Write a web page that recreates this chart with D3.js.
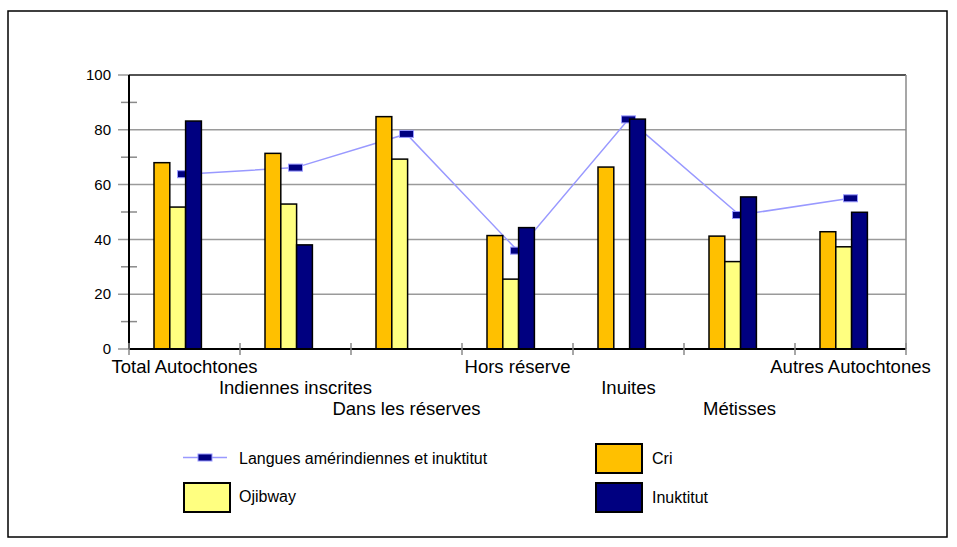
<!DOCTYPE html>
<html><head><meta charset="utf-8">
<script src="https://cdn.jsdelivr.net/npm/d3@7"></script>
<style>body{margin:0;background:#fff}svg{display:block;font-family:"Liberation Sans",Arial,sans-serif}</style>
</head><body><svg id="c" width="957" height="547"></svg>
<script>
const categories = ["Total Autochtones","Indiennes inscrites","Dans les réserves","Hors réserve","Inuites","Métisses","Autres Autochtones"];
const seriesNames = ["Cri","Ojibway","Inuktitut"];
const cri = [68.0, 71.4, 84.8, 41.4, 66.4, 41.2, 42.8];
const ojibway = [51.8, 52.9, 69.3, 25.5, null, 31.9, 37.3];
const inuktitut = [83.2, 38.0, 0, 44.3, 83.9, 55.5, 49.9];
const langues = [63.8, 66.2, 78.5, 35.9, 83.8, 48.9, 55.0];
const lineName = "Langues amérindiennes et inuktitut";
const yTicks = [0,20,40,60,80,100];
const yMinor = [10,30,50,70,90];
const colors = {"Cri":"#FFC000","Ojibway":"#FFFF80","Inuktitut":"#000080"};
const barData = {"Cri":cri,"Ojibway":ojibway,"Inuktitut":inuktitut};

const svg = d3.select("#c");
const L=129, R=906, T=75, B=349;
const x = d3.scaleBand().domain(categories).range([L,R]).padding(0);
const xs = d3.scaleBand().domain(seriesNames).range([25, 72.4]);
const y = d3.scaleLinear().domain([0,100]).range([B,T]);

// outer border
svg.append("rect").attr("x",8).attr("y",11).attr("width",939).attr("height",526)
  .attr("fill","none").attr("stroke","#000").attr("stroke-width",1.5);

// gridlines + major ticks
svg.append("g").selectAll("line").data(yTicks.filter(d=>d>0)).join("line")
  .attr("x1",118).attr("x2",R).attr("y1",d=>y(d)).attr("y2",d=>y(d))
  .attr("stroke","#9a9a9a").attr("stroke-width",1.5);
svg.append("line").attr("x1",118).attr("x2",L).attr("y1",y(0)).attr("y2",y(0)).attr("stroke","#9a9a9a").attr("stroke-width",1.5);
// plot frame top/right
svg.append("line").attr("x1",L).attr("x2",R).attr("y1",T).attr("y2",T).attr("stroke","#333").attr("stroke-width",1.5);
svg.append("line").attr("x1",R).attr("x2",R).attr("y1",T).attr("y2",B).attr("stroke","#8a8a8a").attr("stroke-width",1.5);
// minor ticks
svg.append("g").selectAll("line").data(yMinor).join("line")
  .attr("x1",121).attr("x2",137).attr("y1",d=>y(d)).attr("y2",d=>y(d))
  .attr("stroke","#8a8a8a").attr("stroke-width",1.5);
// y labels
svg.append("g").selectAll("text").data(yTicks).join("text")
  .attr("x",111).attr("y",d=>y(d)).attr("dy","0.35em").attr("text-anchor","end")
  .attr("font-size",15).attr("fill","#000").text(d=>d);

// line series (behind bars)
const line = d3.line().x((d,i)=>x(categories[i])+x.bandwidth()/2).y(d=>y(d));
svg.append("path").datum(langues).attr("d",line).attr("fill","none").attr("stroke","#9999FF").attr("stroke-width",1.5);
svg.append("g").selectAll("rect").data(langues).join("rect")
  .attr("x",(d,i)=>x(categories[i])+x.bandwidth()/2-7).attr("y",d=>y(d)-3.5)
  .attr("width",14).attr("height",7).attr("fill","#000080").attr("stroke","#9999FF").attr("stroke-width",1);

// bars
seriesNames.forEach(s=>{
  svg.append("g").selectAll("rect").data(barData[s].map((v,i)=>({v,c:categories[i]})).filter(d=>d.v!==null)).join("rect")
    .attr("x",d=>x(d.c)+xs(s)).attr("width",xs.bandwidth())
    .attr("y",d=>y(d.v)).attr("height",d=>Math.max(0,B-y(d.v)))
    .attr("fill",colors[s]).attr("stroke","#000").attr("stroke-width",1.5);
});

// axes
svg.append("line").attr("x1",L).attr("x2",L).attr("y1",T).attr("y2",B).attr("stroke","#000").attr("stroke-width",2);
svg.append("line").attr("x1",L).attr("x2",R).attr("y1",B).attr("y2",B).attr("stroke","#000").attr("stroke-width",2);
// x ticks at boundaries
const bounds = categories.map(c=>x(c)).concat([R]);
svg.append("g").selectAll("line").data(bounds).join("line")
  .attr("x1",d=>d).attr("x2",d=>d).attr("y1",B-6).attr("y2",B+6).attr("stroke","#8a8a8a").attr("stroke-width",1.5);
// category labels staggered
const rowY=[373,394,415];
svg.append("g").selectAll("text").data(categories).join("text")
  .attr("x",d=>x(d)+x.bandwidth()/2).attr("y",(d,i)=>rowY[i%3]).attr("text-anchor","middle")
  .attr("font-size",18.5).attr("fill","#000").text(d=>d);

// legend
const lg = svg.append("g").attr("font-size",16);
lg.append("line").attr("x1",183).attr("x2",227).attr("y1",457.5).attr("y2",457.5).attr("stroke","#9999FF").attr("stroke-width",1.5);
lg.append("rect").attr("x",198).attr("y",454).attr("width",14).attr("height",7).attr("fill","#000080").attr("stroke","#9999FF");
lg.append("text").attr("x",239).attr("y",463.5).text(lineName);
const sw = [{s:"Ojibway",x:184,y:483,tx:239,ty:502},{s:"Cri",x:596,y:444,tx:652,ty:464},{s:"Inuktitut",x:596,y:483,tx:652,ty:503}];
sw.forEach(o=>{
  lg.append("rect").attr("x",o.x).attr("y",o.y).attr("width",46).attr("height",29).attr("fill",colors[o.s]).attr("stroke","#000").attr("stroke-width",2);
  lg.append("text").attr("x",o.tx).attr("y",o.ty).text(o.s);
});
</script></body></html>
